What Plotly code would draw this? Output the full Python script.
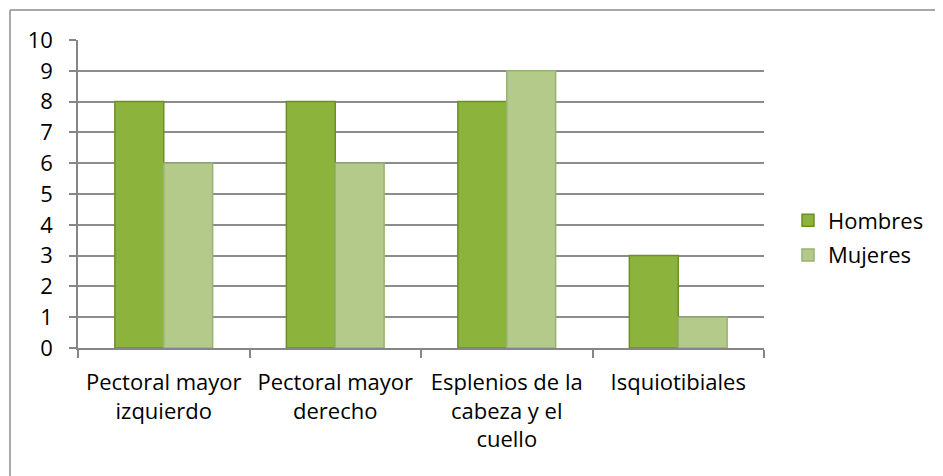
import plotly.graph_objects as go

categories = ["Pectoral mayor<br>izquierdo", "Pectoral mayor<br>derecho",
              "Esplenios de la<br>cabeza y el<br>cuello", "Isquiotibiales"]
hombres = [8, 8, 8, 3]
mujeres = [6, 6, 9, 1]
y_ticks = list(range(0, 11))

OFF = 8  # page body margin
W, H = 943 - OFF, 476 - OFF
L, T = 78 - OFF, 40 - OFF
R = W - (764 - OFF)
B = H - (348 - OFF)
pw, ph = W - L - R, H - T - B

def px_x(x):
    return (x - OFF - L) / pw

def px_y(y):
    return (H - B - (y - OFF)) / ph

fig = go.Figure()
fig.add_trace(go.Bar(name="Hombres", x=categories, y=hombres,
                     marker=dict(color="#8CB33C", line=dict(color="#6C9025", width=1.5)),
                     legendgroup="h"))
fig.add_trace(go.Bar(name="Mujeres", x=categories, y=mujeres,
                     marker=dict(color="#B3CA8A", line=dict(color="#98B271", width=1.5)),
                     legendgroup="m"))

font = "Open Sans, Carlito, Calibri, sans-serif"
fs = 22
fig.update_layout(
    width=W, height=H,
    margin=dict(l=L, r=R, t=T, b=B, autoexpand=False),
    paper_bgcolor="white", plot_bgcolor="white",
    barmode="group", bargap=0.43, bargroupgap=0,
    font=dict(family=font, size=fs, color="#000000"),
    showlegend=True,
    legend=dict(x=px_x(788), xanchor="left", y=px_y(238), yanchor="middle",
                font=dict(size=fs), tracegroupgap=3, itemwidth=30,
                bgcolor="rgba(0,0,0,0)"),
    xaxis=dict(showline=True, linecolor="#868686", linewidth=1.5,
               ticks="outside", tickson="boundaries", ticklen=8, tickcolor="#868686",
               tickwidth=1.5, showgrid=False, tickfont=dict(size=fs), tickangle=0,
               ticklabelstandoff=14, fixedrange=True),
    yaxis=dict(range=[0, 10], tickvals=y_ticks, showline=True, linecolor="#868686",
               linewidth=1.5, ticks="outside", ticklen=7, tickcolor="#868686",
               tickwidth=1.5, showgrid=True, gridcolor="#8C8C8C", gridwidth=1.5,
               zeroline=False, tickfont=dict(size=fs), ticklabelstandoff=12,
               fixedrange=True),
    shapes=[
        dict(type="line", xref="paper", yref="paper", x0=px_x(10), x1=px_x(960),
             y0=px_y(10), y1=px_y(10), line=dict(color="#8C8C8C", width=1.5)),
        dict(type="line", xref="paper", yref="paper", x0=px_x(10), x1=px_x(10),
             y0=px_y(10), y1=px_y(490), line=dict(color="#8C8C8C", width=1.5)),
    ],
)

fig.write_html("out.html")
